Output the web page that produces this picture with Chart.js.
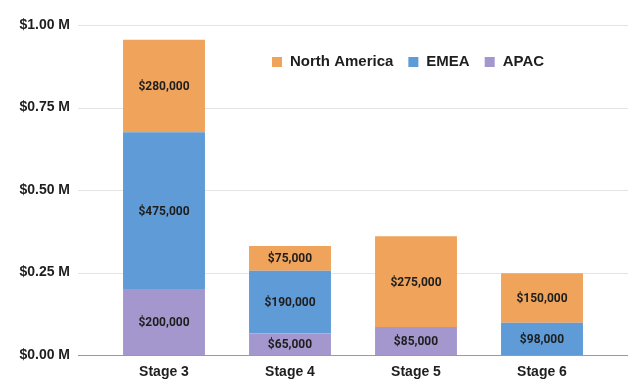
<!DOCTYPE html>
<html>
<head>
<meta charset="utf-8">
<script src="https://cdn.jsdelivr.net/npm/chart.js@4"></script>
<style>
  html, body { margin: 0; padding: 0; background: #fff; }
  #wrap { width: 638px; height: 391px; }
</style>
</head>
<body>
<div id="wrap"><canvas id="chartStages" width="638" height="391"></canvas></div>
<script>
// --- data ---
const stages = ["Stage 3", "Stage 4", "Stage 5", "Stage 6"];
const northAmerica = [280000, 75000, 275000, 150000];
const emea = [475000, 190000, 0, 98000];
const apac = [200000, 65000, 85000, 0];
const yTicks = [0, 250000, 500000, 750000, 1000000];

const ORANGE = "#F0A35A";
const BLUE = "#5F9BD6";
const PURPLE = "#A497CE";

const money = (v) => "$" + v.toLocaleString("en-US");

// gridlines reach a bit past the bars on both sides
const gridPlugin = {
  id: "grid",
  beforeDatasetsDraw(chart) {
    const { ctx, chartArea, scales } = chart;
    ctx.save();
    ctx.strokeStyle = "#e4e4e4";
    ctx.lineWidth = 1;
    yTicks.forEach((t) => {
      if (t === 0) return;
      const y = Math.round(scales.y.getPixelForValue(t)) + 0.5;
      ctx.beginPath();
      ctx.moveTo(chartArea.left - 23, y);
      ctx.lineTo(chartArea.right + 23, y);
      ctx.stroke();
    });
    ctx.restore();
  },
  afterDatasetsDraw(chart) {
    const { ctx, chartArea, scales } = chart;
    const y = Math.round(scales.y.getPixelForValue(0)) + 0.5;
    ctx.save();
    ctx.strokeStyle = "#9a9a9a";
    ctx.beginPath();
    ctx.moveTo(chartArea.left - 23, y);
    ctx.lineTo(chartArea.right + 23, y);
    ctx.stroke();
    ctx.restore();
  },
};

// value labels in the middle of each segment
const labelPlugin = {
  id: "segLabels",
  afterDatasetsDraw(chart) {
    const { ctx } = chart;
    ctx.save();
    ctx.font = "bold 12px Roboto, 'Liberation Sans', Arial, sans-serif";
    ctx.fillStyle = "#1e1e1e";
    ctx.textAlign = "center";
    ctx.textBaseline = "middle";
    chart.data.datasets.forEach((ds, i) => {
      chart.getDatasetMeta(i).data.forEach((bar, j) => {
        const v = ds.data[j];
        if (!v) return;
        ctx.fillText(money(v), bar.x, (bar.y + bar.base) / 2 + 1);
      });
    });
    ctx.restore();
  },
};

// legend sits inside the plot, top right
const legendPlugin = {
  id: "insideLegend",
  afterDraw(chart) {
    const { ctx } = chart;
    ctx.save();
    ctx.font = "bold 15px 'Liberation Sans', Arial, sans-serif";
    ctx.textBaseline = "middle";
    ctx.textAlign = "left";
    let x = 272;
    const y = 62;
    chart.data.datasets.slice().reverse().forEach((ds) => {
      ctx.fillStyle = ds.backgroundColor;
      ctx.fillRect(x, y - 5, 10, 10);
      x += 18;
      ctx.fillStyle = "#1e1e1e";
      ctx.fillText(ds.label, x, y);
      x += ctx.measureText(ds.label).width + 15;
    });
    ctx.restore();
  },
};

const ctx = document.getElementById("chartStages");
new Chart(ctx, {
  type: "bar",
  data: {
    labels: stages,
    datasets: [
      { label: "APAC", data: apac, backgroundColor: PURPLE },
      { label: "EMEA", data: emea, backgroundColor: BLUE },
      { label: "North America", data: northAmerica, backgroundColor: ORANGE },
    ],
  },
  options: {
    responsive: false,
    animation: false,
    devicePixelRatio: 1,
    layout: { padding: { top: 25, right: 33, bottom: 0, left: 0 } },
    datasets: { bar: { barPercentage: 1, categoryPercentage: 0.65, borderWidth: 0 } },
    plugins: { legend: { display: false }, tooltip: { enabled: false } },
    scales: {
      x: {
        stacked: true,
        grid: { display: false, drawTicks: false },
        border: { display: false },
        ticks: {
          padding: 9,
          color: "#1e1e1e",
          font: { family: "'Liberation Sans', Arial, sans-serif", size: 14, weight: "bold" },
        },
        afterFit(s) { s.height = 36; },
      },
      y: {
        stacked: true,
        min: 0,
        max: 1000000,
        afterBuildTicks(s) { s.ticks = yTicks.map((v) => ({ value: v })); },
        // invisible tick marks give the gap between labels and plot
        grid: { display: false, drawTicks: true, tickLength: 31 },
        border: { display: false },
        ticks: {
          padding: 0,
          color: "#1e1e1e",
          font: { family: "'Liberation Sans', Arial, sans-serif", size: 14, weight: "bold" },
          callback: (v) => "$" + (v / 1000000).toFixed(2) + " M",
        },
        afterFit(s) { s.width = 101; },
      },
    },
  },
  plugins: [gridPlugin, labelPlugin, legendPlugin],
});
</script>
</body>
</html>
